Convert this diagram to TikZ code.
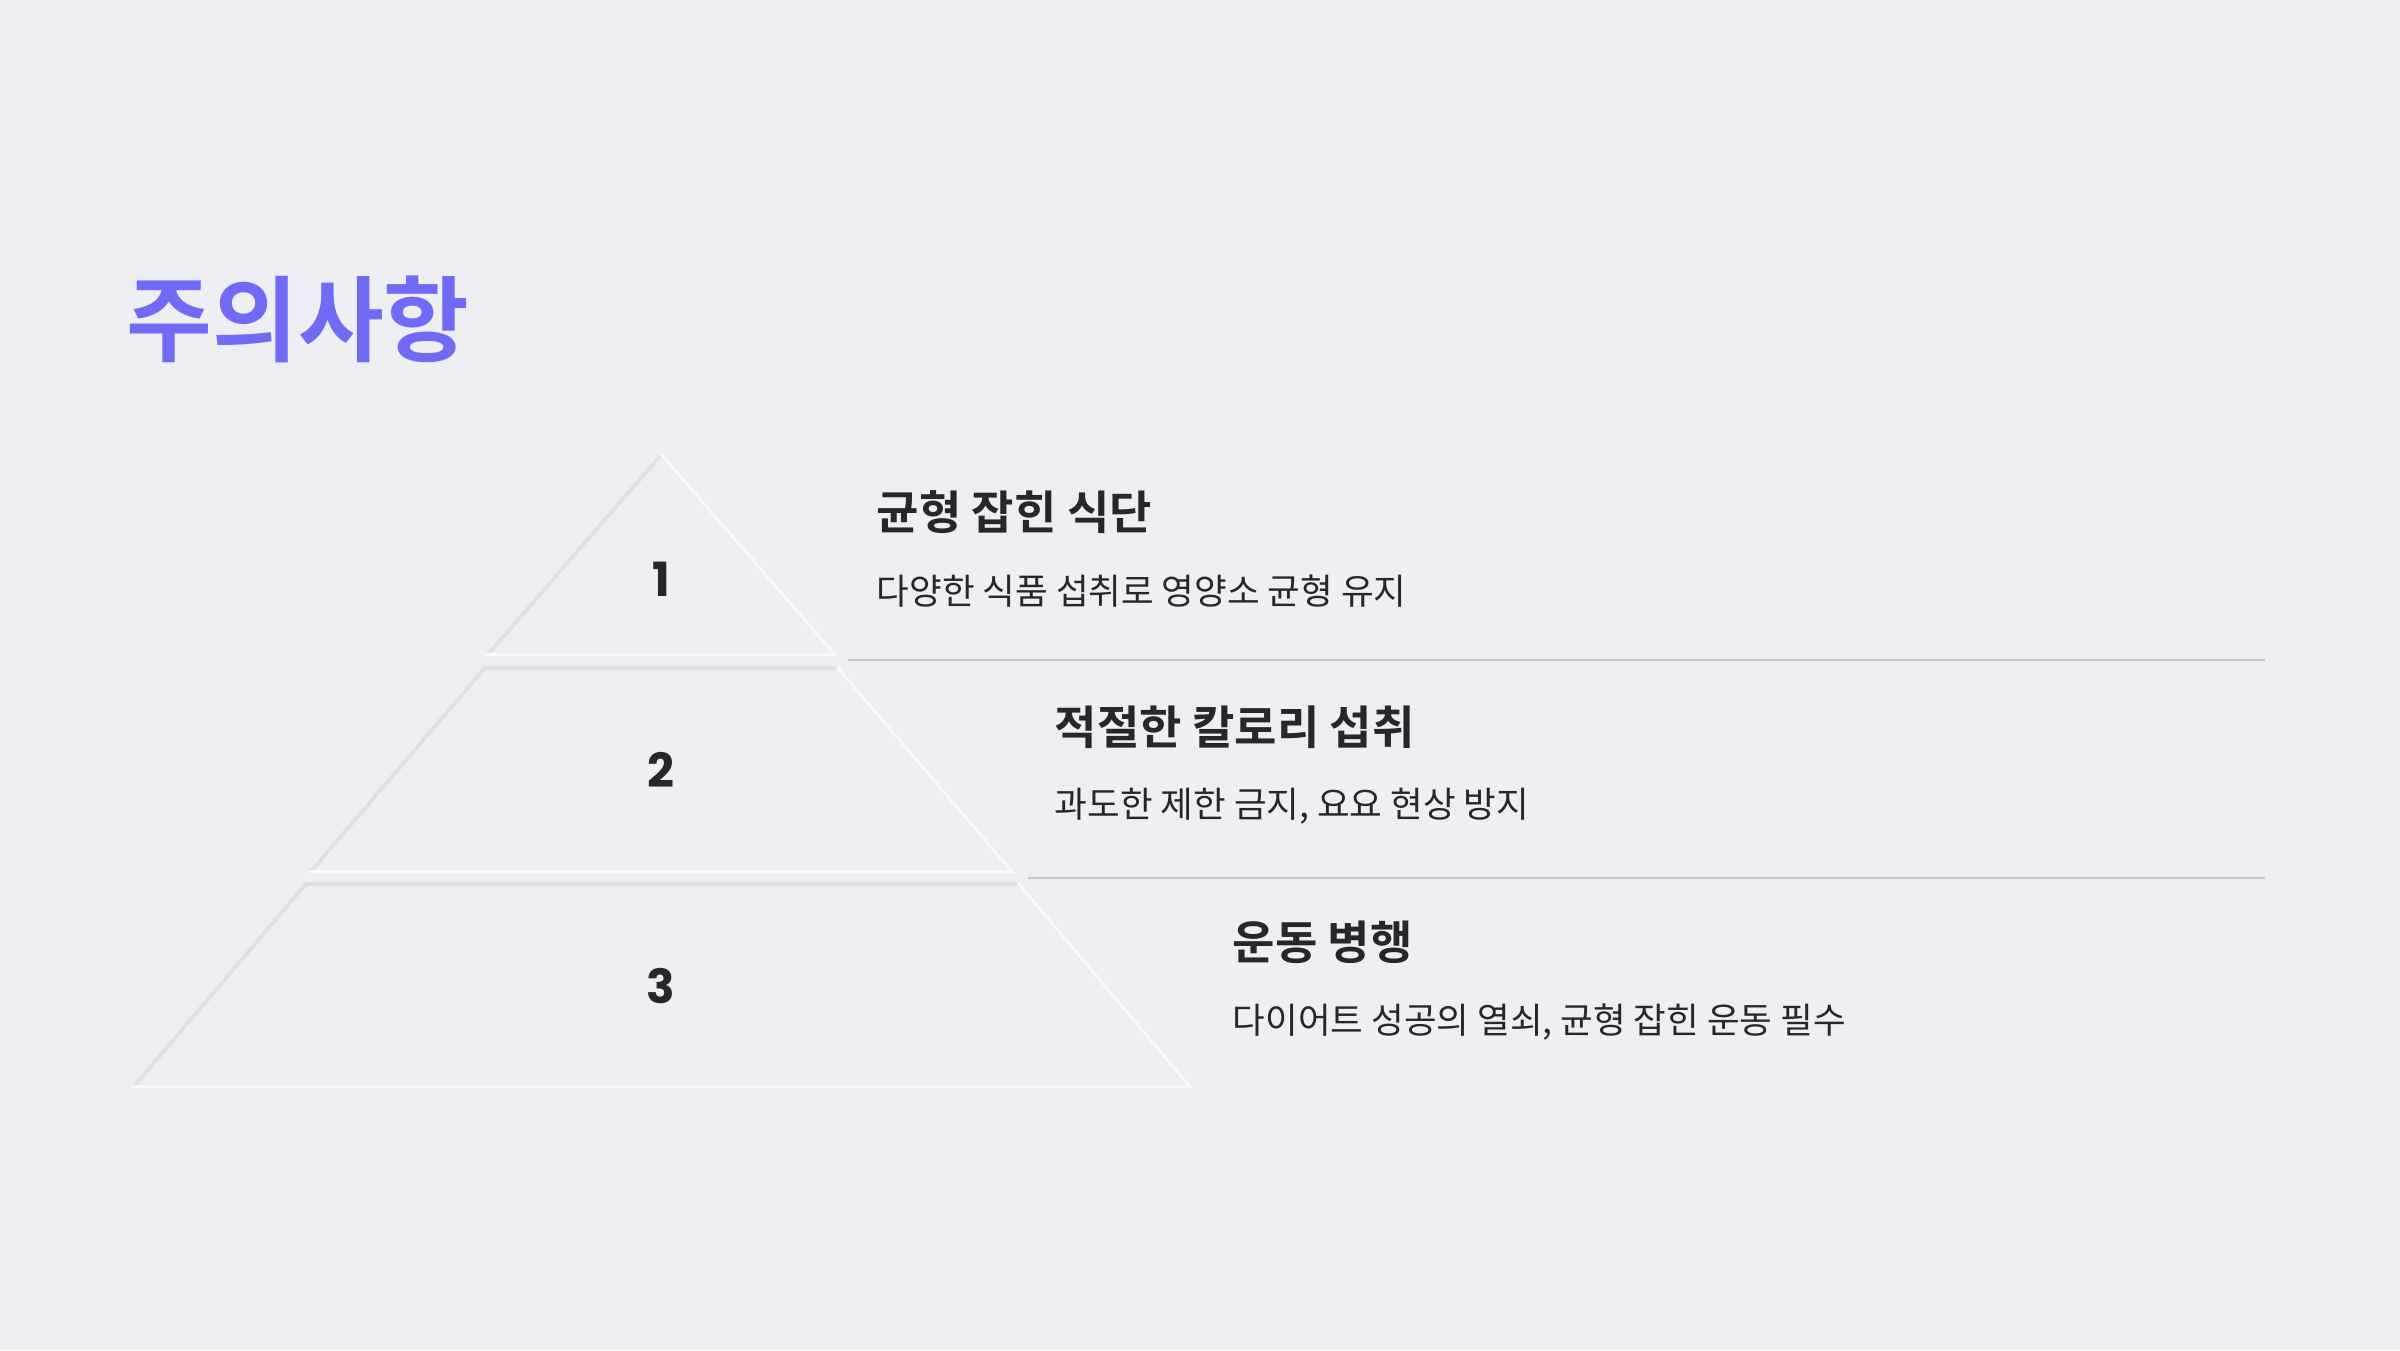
\documentclass[tikz,border=0pt]{standalone}
\usepackage{fontspec}
\newfontfamily\krfont{Noto Sans CJK KR}[BoldFont={Noto Sans CJK KR Bold}]
\newfontfamily\numfont{Poppins}

\definecolor{bgcol}{HTML}{EEEFF4}
\definecolor{titlecol}{HTML}{716AF5}
\definecolor{inkcol}{HTML}{27272A}
\definecolor{rulecol}{HTML}{C6C6D0}
\definecolor{shadecol}{HTML}{DFE0E6}

\tikzset{
    tier/.style={fill=bgcol},
    tiershade/.style={draw=shadecol, line width=2.2pt, line join=round},
    tierlight/.style={draw=white, draw opacity=0.75, line width=1.6pt, line join=round},
    title/.style={font=\krfont\bfseries\fontsize{26.5}{32}\selectfont, text=titlecol, inner sep=0},
    head/.style={font=\krfont\bfseries\fontsize{13.1}{15}\selectfont, text=inkcol, anchor=west, inner sep=0},
    desc/.style={font=\krfont\fontsize{10.1}{12}\selectfont, text=inkcol, anchor=west, inner sep=0},
    rank/.style={font=\numfont\bfseries\fontsize{13.4}{16}\selectfont, text=inkcol, inner sep=0},
    sep/.style={draw=rulecol, line width=0.6pt}
}

\begin{document}
\begin{tikzpicture}[x=0.01cm, y=-0.01cm]
        \fill[bgcol] (0,0) rectangle (2400,1350);
        \useasboundingbox (0,0) rectangle (2400,1350);

        \node[title, anchor=base west] (title) at (126,354) {주의사항};

        % pyramid, top to bottom
        \begin{scope}
            \clip (661,452) -- (838,656) -- (484,656) -- cycle;
            \fill[tier] (0,0) rectangle (2400,1350);
            \draw[tiershade] (484,656) -- (661,452);
            \draw[tierlight] (484,656) -- (838,656) -- (661,452);
        \end{scope}
        \begin{scope}
            \clip (484,666) -- (838,666) -- (1015,873) -- (307,873) -- cycle;
            \fill[tier] (0,0) rectangle (2400,1350);
            \draw[tiershade] (307,873) -- (484,666) -- (838,666);
            \draw[tierlight] (307,873) -- (1015,873) -- (838,666);
        \end{scope}
        \begin{scope}
            \clip (305,882) -- (1019,882) -- (1193,1088) -- (130,1088) -- cycle;
            \fill[tier] (0,0) rectangle (2400,1350);
            \draw[tiershade] (130,1088) -- (305,882) -- (1019,882);
            \draw[tierlight] (130,1088) -- (1193,1088) -- (1019,882);
        \end{scope}

        \node[rank] (rank1) at (661,579) {1};
        \node[rank] (rank2) at (661,770) {2};
        \node[rank] (rank3) at (661,986) {3};

        \node[head] (headA) at (876,512) {균형 잡힌 식단};
        \node[desc] (descA) at (876,591) {다양한 식품 섭취로 영양소 균형 유지};
        \node[head] (headB) at (1054,727) {적절한 칼로리 섭취};
        \node[desc] (descB) at (1054,806) {과도한 제한 금지, 요요 현상 방지};
        \node[head] (headC) at (1232,942) {운동 병행};
        \node[desc] (descC) at (1232,1022) {다이어트 성공의 열쇠, 균형 잡힌 운동 필수};

        \draw[sep] (848,660) -- (2265,660);
        \draw[sep] (1028,878) -- (2265,878);
    \end{tikzpicture}
\end{document}
